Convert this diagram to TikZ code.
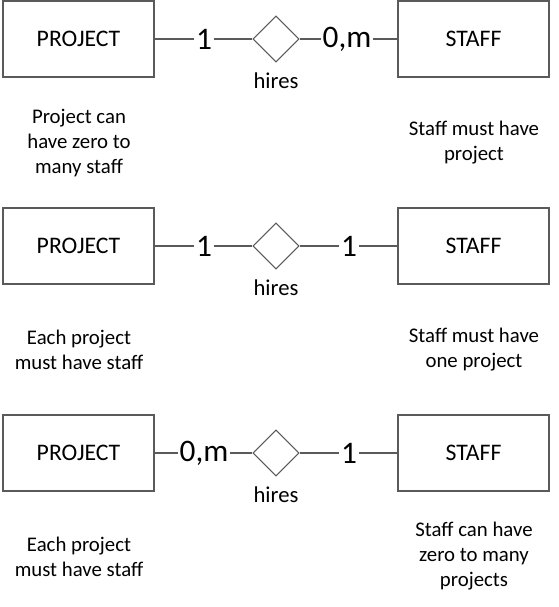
\documentclass[tikz,border=0pt]{standalone}
\usepackage{fontspec}
\setmainfont{Carlito}
\usetikzlibrary{shapes.geometric}
\definecolor{edgegray}{HTML}{5A5A5A}
\begin{document}
\begin{tikzpicture}[x=0.75pt,y=-0.75pt,
  entity/.style={draw=edgegray,line width=1pt,minimum width=151*0.75pt,minimum height=76*0.75pt,inner sep=0pt,font=\fontsize{17.8pt}{20pt}\selectfont},
  rel/.style={draw=edgegray,line width=0.8pt,diamond,minimum width=46*0.75pt,minimum height=46*0.75pt,inner sep=0pt,aspect=1},
  card/.style={inner sep=1pt,font=\fontsize{23.5pt}{26pt}\selectfont},
  rellabel/.style={inner sep=0pt,font=\fontsize{17pt}{20pt}\selectfont},
  desc/.style={align=center,inner sep=0pt,font=\fontsize{15.6pt}{18.75pt}\selectfont},
  conn/.style={draw=edgegray,line width=0.9pt}]
\useasboundingbox (0,0) rectangle (559,607);
% Row 1
\node[entity] (p1) at (78.5,39) {PROJECT};
\node[entity] (s1) at (473.5,39) {STAFF};
\node[rel] (d1) at (276,39) {};
\node[rellabel] (h1) at (276,81) {hires};
\node[card] (c1a) at (204,39) {1};
\node[card] (c1b) at (347,39) {0,m};
\draw[conn] (p1.east) -- (c1a.west);
\draw[conn] (c1a.east) -- (d1.west);
\draw[conn] (d1.east) -- (c1b.west);
\draw[conn] (c1b.east) -- (s1.west);
\node[desc] (t1a) at (79,143) {Project can\\have zero to\\many staff};
\node[desc] (t1b) at (474,142.5) {Staff must have\\project};
% Row 2
\node[entity] (p2) at (78.5,246) {PROJECT};
\node[entity] (s2) at (473.5,246) {STAFF};
\node[rel] (d2) at (276,246) {};
\node[rellabel] (h2) at (276,288) {hires};
\node[card] (c2a) at (204,246) {1};
\node[card] (c2b) at (349,246) {1};
\draw[conn] (p2.east) -- (c2a.west);
\draw[conn] (c2a.east) -- (d2.west);
\draw[conn] (d2.east) -- (c2b.west);
\draw[conn] (c2b.east) -- (s2.west);
\node[desc] (t2a) at (79,349.5) {Each project\\must have staff};
\node[desc] (t2b) at (474,349.5) {Staff must have\\one project};
% Row 3
\node[entity] (p3) at (78.5,453) {PROJECT};
\node[entity] (s3) at (473.5,453) {STAFF};
\node[rel] (d3) at (276,453) {};
\node[rellabel] (h3) at (276,495) {hires};
\node[card] (c3a) at (204,453) {0,m};
\node[card] (c3b) at (349,453) {1};
\draw[conn] (p3.east) -- (c3a.west);
\draw[conn] (c3a.east) -- (d3.west);
\draw[conn] (d3.east) -- (c3b.west);
\draw[conn] (c3b.east) -- (s3.west);
\node[desc] (t3a) at (79,556.5) {Each project\\must have staff};
\node[desc] (t3b) at (474,556) {Staff can have\\zero to many\\projects};
\end{tikzpicture}
\end{document}
